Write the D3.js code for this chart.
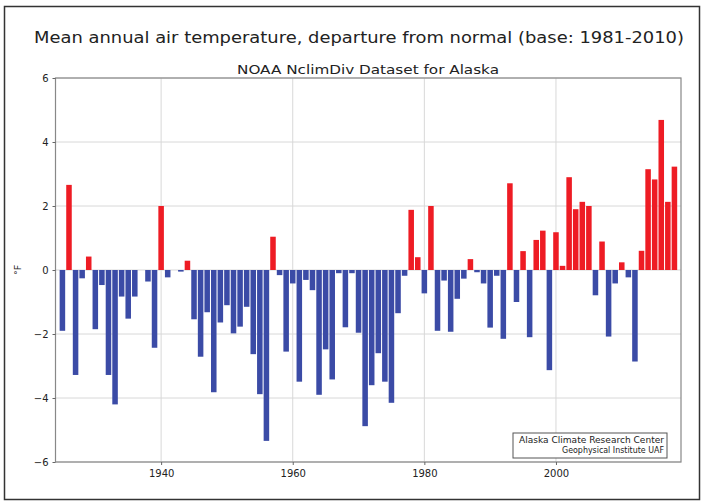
<!DOCTYPE html>
<html>
<head>
<meta charset="utf-8">
<script src="https://cdn.jsdelivr.net/npm/d3@7"></script>
<style>
  html, body { margin: 0; padding: 0; background: #fff; }
  svg { display: block; }
  text { font-family: "DejaVu Sans", sans-serif; fill: #222; }
</style>
</head>
<body>
<svg id="chart" width="704" height="504"></svg>
<script>
// Alaska mean annual air temperature anomaly (°F), base 1981-2010
const years = d3.range(1925, 2019);
const anomalies = [
  -1.90,  2.66, -3.28, -0.26,  0.42, -1.85, -0.47, -3.28, -4.20, -0.83, // 1925-1934
  -1.52, -0.83,  0.00, -0.36, -2.43,  2.00, -0.23,  0.00, -0.05,  0.29, // 1935-1944
  -1.54, -2.71, -1.32, -3.82, -1.64, -1.10, -1.98, -1.77, -1.15, -2.63, // 1945-1954
  -3.88, -5.34,  1.04, -0.16, -2.55, -0.42, -3.49, -0.31, -0.63, -3.90, // 1955-1964
  -2.48, -3.42, -0.10, -1.79, -0.10, -1.96, -4.88, -3.60, -2.60, -3.49, // 1965-1974
  -4.15, -1.35, -0.18,  1.88,  0.40, -0.73,  2.00, -1.90, -0.33, -1.93, // 1975-1984
  -0.90, -0.27,  0.34, -0.07, -0.42, -1.80, -0.18, -2.15,  2.71, -1.00, // 1985-1994
   0.59, -2.10,  0.94,  1.23, -3.13,  1.18,  0.13,  2.90,  1.90,  2.13, // 1995-2004
   2.00, -0.79,  0.89, -2.08, -0.42,  0.24, -0.23, -2.86,  0.60,  3.15, // 2005-2014
   2.83,  4.69,  2.13,  3.23                                            // 2015-2018
];
const yTicks = [-6, -4, -2, 0, 2, 4, 6];
const xTicks = [1940, 1960, 1980, 2000];
const titleText = "Mean annual air temperature, departure from normal (base: 1981-2010)";
const subtitleText = "NOAA NclimDiv Dataset for Alaska";
const creditLines = ["Alaska Climate Research Center", "Geophysical Institute UAF"];

const data = years.map((y, i) => ({ year: y, value: anomalies[i] }));

const svg = d3.select("#chart");
const plot = { left: 55.5, right: 681, top: 78, bottom: 462 };

// outer frame
svg.append("rect")
  .attr("x", 4.5).attr("y", 6.5).attr("width", 695).attr("height", 493)
  .attr("fill", "none").attr("stroke", "#333").attr("stroke-width", 1.5);

const x = d3.scaleLinear().domain([1923.95, 2019]).range([plot.left, plot.right]);
const y = d3.scaleLinear().domain([-6, 6]).range([plot.bottom, plot.top]);
const barW = 0.84 * (x(1926) - x(1925));

// grid
const grid = svg.append("g").attr("stroke", "#d8d8d8").attr("stroke-width", 1);
yTicks.forEach(t => grid.append("line")
  .attr("x1", plot.left).attr("x2", plot.right)
  .attr("y1", y(t)).attr("y2", y(t)));
xTicks.forEach(t => grid.append("line")
  .attr("x1", x(t)).attr("x2", x(t))
  .attr("y1", plot.top).attr("y2", plot.bottom));

// bars
svg.append("g").selectAll("rect").data(data).join("rect")
  .attr("x", d => x(d.year) - barW / 2)
  .attr("width", barW)
  .attr("y", d => y(Math.max(0, d.value)))
  .attr("height", d => Math.abs(y(d.value) - y(0)))
  .attr("fill", d => d.value > 0 ? "#ee1c24" : "#3b4ba6");

// plot frame
svg.append("rect")
  .attr("x", plot.left).attr("y", plot.top)
  .attr("width", plot.right - plot.left).attr("height", plot.bottom - plot.top)
  .attr("fill", "none").attr("stroke", "#888").attr("stroke-width", 1.2);

// axes
const yAxis = d3.axisLeft(y).tickValues(yTicks).tickSize(3).tickPadding(4)
  .tickFormat(d => d < 0 ? "\u2212" + Math.abs(d) : String(d));
const gy = svg.append("g").attr("transform", `translate(${plot.left},0)`).call(yAxis);
const xAxis = d3.axisBottom(x).tickValues(xTicks).tickSize(3).tickPadding(5).tickFormat(d3.format("d"));
const gx = svg.append("g").attr("transform", `translate(0,${plot.bottom})`).call(xAxis);
[gy, gx].forEach(g => {
  g.select(".domain").remove();
  g.selectAll(".tick line").attr("stroke", "#666");
  g.selectAll(".tick text").attr("font-size", 10).attr("fill", "#333")
    .attr("font-family", "DejaVu Sans, sans-serif");
});

// y axis label
svg.append("text")
  .attr("transform", `translate(21,${(plot.top + plot.bottom) / 2}) rotate(-90)`)
  .attr("text-anchor", "middle").attr("font-size", 9.5).text("°F");

// titles
svg.append("text").attr("x", 359).attr("y", 43)
  .attr("text-anchor", "middle").attr("font-size", 16.5)
  .attr("textLength", 650).attr("lengthAdjust", "spacingAndGlyphs").text(titleText);
svg.append("text").attr("x", 368).attr("y", 74)
  .attr("text-anchor", "middle").attr("font-size", 13)
  .attr("textLength", 262).attr("lengthAdjust", "spacingAndGlyphs").text(subtitleText);

// credit box
const box = { x: 513, y: 433, w: 154, h: 25 };
svg.append("rect").attr("x", box.x).attr("y", box.y).attr("width", box.w).attr("height", box.h)
  .attr("fill", "#fff").attr("stroke", "#555").attr("stroke-width", 1);
const creditWidths = [145, 102];
creditLines.forEach((t, i) => svg.append("text")
  .attr("x", box.x + box.w - 3).attr("y", box.y + 10 + i * 9.5)
  .attr("text-anchor", "end").attr("font-size", 8)
  .attr("textLength", creditWidths[i]).attr("lengthAdjust", "spacingAndGlyphs").text(t));
</script>
</body>
</html>
